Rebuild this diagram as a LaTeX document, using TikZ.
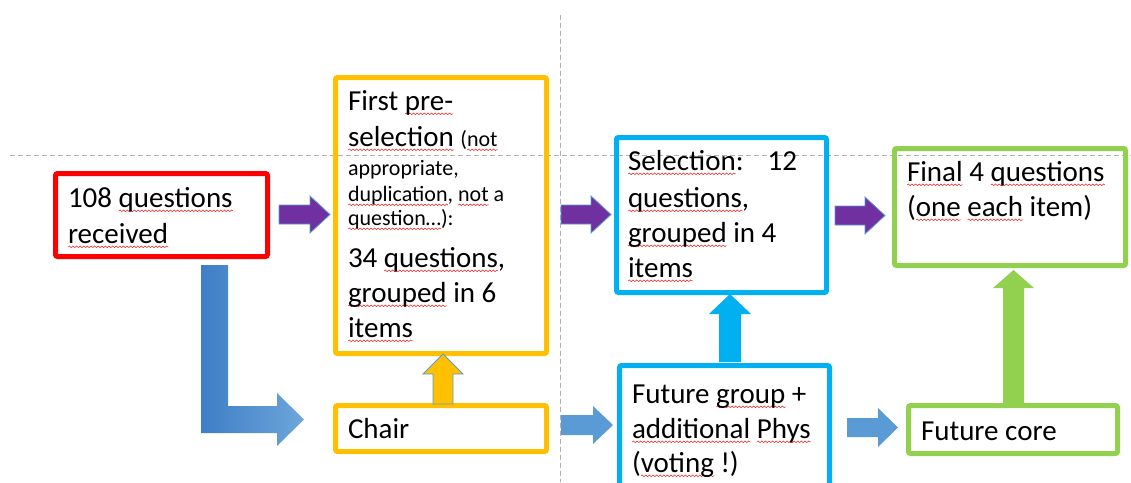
\documentclass[tikz,border=0pt]{standalone}
\usepackage{fontspec}
\setmainfont{Carlito}
\usetikzlibrary{decorations.pathmorphing}
\definecolor{redc}{HTML}{FF0000}
\definecolor{yelc}{HTML}{FFC000}
\definecolor{cyac}{HTML}{00B0F0}
\definecolor{grnc}{HTML}{92D050}
\definecolor{purc}{HTML}{7030A0}
\definecolor{arrc}{HTML}{5B9BD5}
\definecolor{ldark}{HTML}{3F7EC6}
\definecolor{llight}{HTML}{6DA6DB}
\definecolor{guide}{HTML}{B0B0B0}
\definecolor{sqc}{HTML}{F03030}
\newsavebox\sqbox
\newlength\sqlen
\newcommand\sq[1]{\sbox\sqbox{#1}\setlength\sqlen{\wd\sqbox}\rlap{\tikz[baseline=0pt]\draw[sqc,line width=0.6pt,decorate,decoration={snake,amplitude=0.8pt,segment length=3.6pt}](0pt,-3.8pt)--(\sqlen,-3.8pt);}\usebox\sqbox}
\newcommand\smallfs{\fontsize{22}{26}\selectfont}
\begin{document}
\begin{tikzpicture}[x=1pt,y=-1pt,
  frame/.style={draw=#1,line width=5pt,rounded corners=2pt,inner sep=0pt,outer sep=0pt,anchor=north west},
  txt/.style={anchor=base west,inner sep=0pt,outer sep=0pt,font=\fontsize{29}{35}\selectfont},
  smtxt/.style={anchor=base west,inner sep=0pt,outer sep=0pt,font=\smallfs},
  barrow/.style={fill=#1,draw=arrc,line width=0.8pt,line join=miter},
  flatarrow/.style={fill=#1}]
\useasboundingbox (0,0) rectangle (1131,482);
\clip (0,0) rectangle (1131,482);
% guide lines
\draw[guide,line width=1pt,dash pattern=on 5pt off 3pt] (10,155) -- (1131,155);
\draw[guide,line width=1pt,dash pattern=on 5pt off 3pt] (560,15) -- (560,482);
% boxes
\node[frame=redc,minimum width=212pt,minimum height=83pt] (rbox) at (55.5,173.5) {};
\node[frame=yelc,minimum width=211pt,minimum height=276pt] (ybox) at (335.5,77.5) {};
\node[frame=yelc,minimum width=211pt,minimum height=46pt] (chair) at (335.5,405.5) {};
\node[frame=cyac,minimum width=210pt,minimum height=155pt] (sel) at (616.5,137.5) {};
\node[frame=cyac,minimum width=210pt,minimum height=134.5pt] (fg) at (619.5,365.5) {};
\node[frame=grnc,minimum width=231pt,minimum height=117pt] (fin) at (894.5,148.5) {};
\node[frame=grnc,minimum width=209pt,minimum height=48pt] (core) at (908.5,405.5) {};
% texts
\node[txt] (t1) at (68,207) {108 \sq{questions}};
\node[txt] (t2) at (68,243) {\sq{received}};
\node[txt] (y1) at (348,110) {First \sq{pre-}};
\node[txt] (y2) at (348,146) {\sq{selection} {\smallfs(\sq{not}}};
\node[smtxt] (y3) at (348,175) {appropriate,};
\node[smtxt] (y4) at (348,201) {\sq{duplication}, \sq{not} a};
\node[smtxt] (y5) at (348,225) {\sq{question…}):};
\node[txt] (y6) at (348,267) {34 \sq{questions},};
\node[txt] (y7) at (348,302) {\sq{grouped} in 6};
\node[txt] (y8) at (348,337) {\sq{items}};
\node[txt] (c1) at (348,438) {Chair};
\node[txt] (s1) at (628,170) {\sq{Selection}:\hspace{24pt}12};
\node[txt] (s2) at (628,207) {\sq{questions},};
\node[txt] (s3) at (628,242) {\sq{grouped} in 4};
\node[txt] (s4) at (628,277) {\sq{items}};
\node[txt] (f1) at (907,181) {\sq{Final} 4 \sq{questions}};
\node[txt] (f2) at (907,216) {(\sq{one} \sq{each} item)};
\node[txt] (g1) at (632,403) {Future \sq{group} +};
\node[txt] (g2) at (632,438) {\sq{additional} \sq{Phys}};
\node[txt] (g3) at (632,472) {(\sq{voting} !)};
\node[txt] (k1) at (921,440) {Future core};
% block arrows
\draw[barrow=purc] (279,205) -- (310,205) -- (310,196) -- (330,214.5) -- (310,233) -- (310,224) -- (279,224) -- cycle;
\draw[barrow=purc] (561,205) -- (591,205) -- (591,196) -- (611,214.5) -- (591,233) -- (591,224) -- (561,224) -- cycle;
\draw[barrow=purc] (835,206) -- (865,206) -- (865,197) -- (885,215.5) -- (865,234) -- (865,225) -- (835,225) -- cycle;
\shade[left color=ldark,right color=llight] (201,265) -- (228,265) -- (228,406) -- (277,406) -- (277,393) -- (304,419.5) -- (277,446) -- (277,433) -- (201,433) -- cycle;
\draw[barrow=yelc] (433,404) -- (433,374) -- (423,374) -- (443,354) -- (463,374) -- (453,374) -- (453,404) -- cycle;
\fill[flatarrow=cyac] (719,362) -- (719,314) -- (709,314) -- (730,294) -- (751,314) -- (741,314) -- (741,362) -- cycle;
\fill[flatarrow=grnc] (1003,403) -- (1003,288) -- (993,288) -- (1013.5,270) -- (1034,288) -- (1024,288) -- (1024,403) -- cycle;
\fill[flatarrow=arrc] (561,415) -- (593,415) -- (593,406) -- (613,425) -- (593,444) -- (593,435) -- (561,435) -- cycle;
\fill[flatarrow=arrc] (847,418) -- (878,418) -- (878,408) -- (898,427.5) -- (878,447) -- (878,437) -- (847,437) -- cycle;
\end{tikzpicture}
\end{document}
